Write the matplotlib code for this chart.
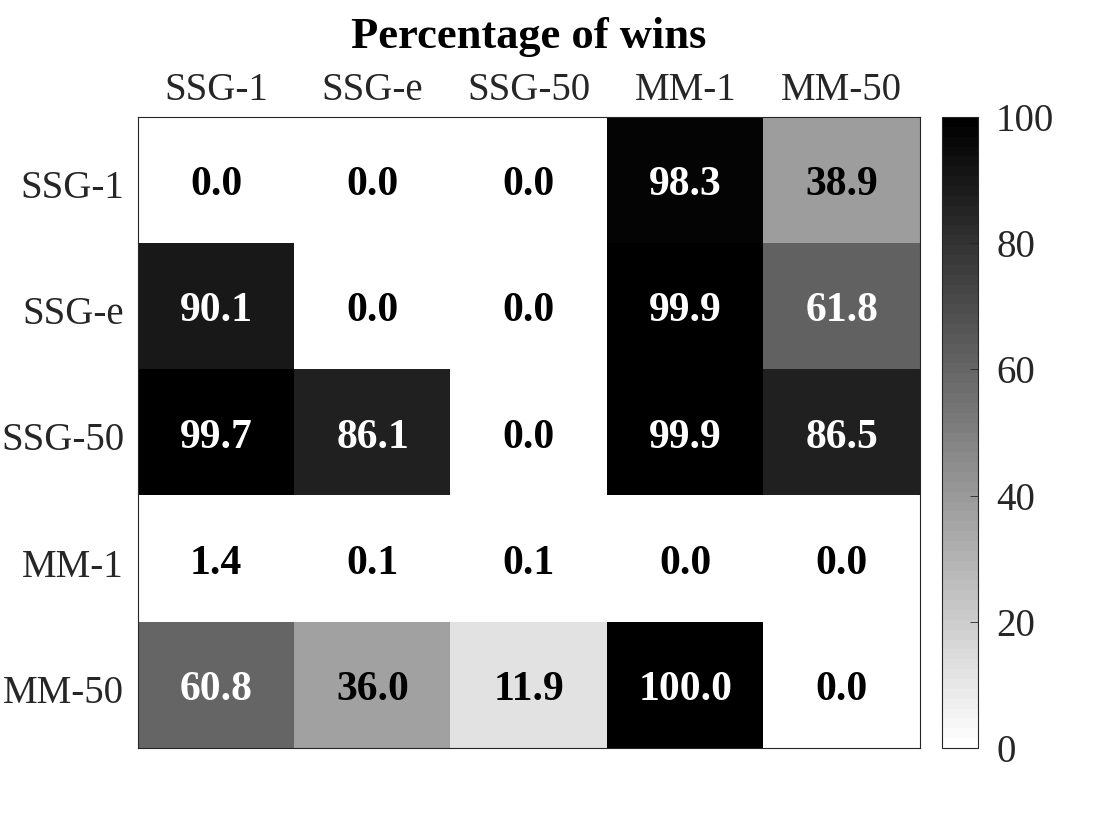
import numpy as np
import matplotlib
matplotlib.use("Agg")
import matplotlib.pyplot as plt
import matplotlib.transforms as mtransforms
from matplotlib.colors import ListedColormap

labels = ["SSG-1", "SSG-e", "SSG-50", "MM-1", "MM-50"]
wins = np.array([
    [0.0, 0.0, 0.0, 98.3, 38.9],
    [90.1, 0.0, 0.0, 99.9, 61.8],
    [99.7, 86.1, 0.0, 99.9, 86.5],
    [1.4, 0.1, 0.1, 0.0, 0.0],
    [60.8, 36.0, 11.9, 100.0, 0.0],
])
cbar_ticks = [0, 20, 40, 60, 80, 100]

plt.rcParams["font.family"] = ["Liberation Serif", "DejaVu Serif"]

# 64-level reversed gray, like MATLAB's flipud(gray)
levels = np.linspace(1, 0, 64)
cmap = ListedColormap(np.column_stack([levels, levels, levels]))

fig = plt.figure(figsize=(11.2, 8.4), dpi=100)
ax = fig.add_axes([138 / 1120, 1 - 748 / 840, 782 / 1120, 631 / 840])
cax = fig.add_axes([942 / 1120, 1 - 748 / 840, 36 / 1120, 631 / 840])

im = ax.imshow(wins, cmap=cmap, vmin=0, vmax=100, aspect="auto",
               interpolation="nearest")

for i in range(wins.shape[0]):
    for j in range(wins.shape[1]):
        v = wins[i, j]
        ax.text(j, i + 0.04, f"{v:.1f}", ha="center", va="center",
                fontsize=30, fontweight="bold",
                color="white" if v > 50 else "black")

ax.set_xticks(range(len(labels)))
ax.set_xticklabels(labels, fontsize=28)
ax.set_yticks(range(len(labels)))
ax.set_yticklabels(labels, fontsize=28)
ax.xaxis.tick_top()
ax.tick_params(axis="x", length=0, pad=6, colors="#262626")
ax.tick_params(axis="y", length=0, pad=10, colors="#262626")
# nudge y labels down a few pixels
shift = mtransforms.ScaledTranslation(0, -4 / 100, fig.dpi_scale_trans)
for lab in ax.get_yticklabels():
    lab.set_transform(lab.get_transform() + shift)
for s in ax.spines.values():
    s.set_linewidth(0.8)
    s.set_color("#262626")
ax.set_title("Percentage of wins", fontsize=32, fontweight="bold", pad=50)

cb = fig.colorbar(im, cax=cax, ticks=cbar_ticks)
cb.ax.tick_params(labelsize=28, direction="in", length=6, width=0.6,
                  colors="#262626", pad=13)
cb.outline.set_linewidth(0.8)
cb.outline.set_edgecolor("#262626")

fig.savefig("out.png", dpi=100)
